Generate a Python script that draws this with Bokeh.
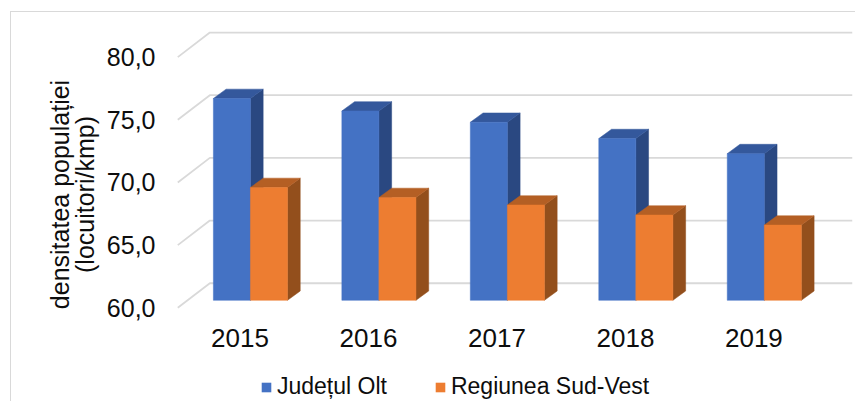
from bokeh.embed import file_html
from bokeh.resources import INLINE
from bokeh.layouts import column
from bokeh.plotting import figure
from bokeh.models import Range1d, Legend, LegendItem

years = ["2015", "2016", "2017", "2018", "2019"]
judet_olt = [76.1, 75.1, 74.2, 72.9, 71.7]
regiunea_sv = [69.0, 68.2, 67.6, 66.8, 66.0]
y_ticks = [60, 65, 70, 75, 80]
y_labels = ["60,0", "65,0", "70,0", "75,0", "80,0"]
series_names = ["Județul Olt", "Regiunea Sud-Vest"]

FONT = "Liberation Sans"
INK = "#0d0d0d"
GRID = "#d9d9d9"
BLUE = ("#4472C4", "#34589C", "#2A4881")
ORANGE = ("#ED7D31", "#B45F24", "#934F1C")

PX_X = 128.25   # pixels per category
PX_Y = 12.5     # pixels per unit of value
FRAME_H = 347
Y_BOTTOM = 55.16

p = figure(frame_width=675, frame_height=FRAME_H, output_backend="svg", toolbar_location=None,
           x_range=Range1d(-0.4945, 4.7675), y_range=Range1d(Y_BOTTOM, Y_BOTTOM + FRAME_H / PX_Y),
           min_border_left=165, min_border_right=4, min_border_top=8, min_border_bottom=0,
           outline_line_color=None, background_fill_color=None, border_fill_color="white",
           margin=(11, 0, 0, 10),
           styles={"border-left": "1.5px solid #d9d9d9", "border-top": "1.5px solid #d9d9d9",
                   "box-sizing": "border-box"})
p.grid.visible = False

# wall: diagonal floor/side segment and the horizontal line behind it
wall_dx = 32 / PX_X
wall_dy = 24.5 / PX_Y
x0, x1 = -0.4945 + 0.01, 4.7675
p.multi_line([[x0, x0 + wall_dx, x1] for _ in y_ticks],
             [[t, t + wall_dy, t + wall_dy] for t in y_ticks],
             line_color=GRID, line_width=1.8)

# bars
bar_w = 37 / PX_X
depth_x = 12.7 / PX_X
depth_y = 9.3 / PX_Y
base_off = 7.5 / PX_Y
first_left = (213.7 - 240.3) / PX_X


def outlines(values, shift):
    fx, fy, tx, ty, sx, sy = [], [], [], [], [], []
    for i, v in enumerate(values):
        l = i + first_left + shift
        r = l + bar_w
        b = 60 + base_off
        t = v + base_off
        fx.append([l, r, r, l]); fy.append([b, b, t, t])
        tx.append([l, r, r + depth_x, l + depth_x]); ty.append([t, t, t + depth_y, t + depth_y])
        sx.append([r, r + depth_x, r + depth_x, r]); sy.append([b, b + depth_y, t + depth_y, t])
    return fx, fy, tx, ty, sx, sy


def paint(values, shift, colors):
    front, top, side = colors
    fx, fy, tx, ty, sx, sy = outlines(values, shift)
    p.patches(sx, sy, fill_color=side, line_color=side, line_width=0.5)
    p.patches(tx, ty, fill_color=top, line_color=top, line_width=0.5)
    p.patches(fx, fy, fill_color=front, line_color=front, line_width=0.5)


paint(judet_olt, 0, BLUE)
paint(regiunea_sv, bar_w, ORANGE)

# axes
p.xaxis.ticker = list(range(len(years)))
p.xaxis.major_label_overrides = {i: y for i, y in enumerate(years)}
p.yaxis.ticker = y_ticks
p.yaxis.major_label_overrides = dict(zip(y_ticks, y_labels))
for ax in (p.xaxis[0], p.yaxis[0]):
    ax.axis_line_color = None
    ax.major_tick_line_color = None
    ax.minor_tick_line_color = None
    ax.major_label_text_font = FONT
    ax.major_label_text_color = INK
p.xaxis.major_label_text_font_size = "26px"
p.xaxis.major_label_standoff = -46
p.yaxis.major_label_text_font_size = "25px"
p.yaxis.major_label_standoff = 15
p.yaxis.axis_label = "densitatea populației\n(locuitori/kmp)"
p.yaxis.axis_label_text_font = FONT
p.yaxis.axis_label_text_font_style = "normal"
p.yaxis.axis_label_text_font_size = "25px"
p.yaxis.axis_label_text_color = INK
p.yaxis.axis_label_standoff = 5
p.yaxis.axis_label_text_line_height = 0.9

# legend strip under the chart
nan = float("nan")
q = figure(width=845, height=34, output_backend="svg", toolbar_location=None,
           x_range=Range1d(0, 1), y_range=Range1d(0, 1), x_axis_location=None, y_axis_location=None,
           min_border=0, outline_line_color=None, background_fill_color=None,
           border_fill_color="white", margin=(0, 0, 0, 10),
           styles={"border-left": "1.5px solid #d9d9d9", "box-sizing": "border-box"})
q.grid.visible = False
k1 = q.quad(left=[nan], right=[nan], top=[nan], bottom=[nan], fill_color=BLUE[0], line_color=None)
k2 = q.quad(left=[nan], right=[nan], top=[nan], bottom=[nan], fill_color=ORANGE[0], line_color=None)
legend = Legend(items=[LegendItem(label=series_names[0], renderers=[k1]),
                       LegendItem(label=series_names[1], renderers=[k2])],
                orientation="horizontal", location=(84, 1),
                glyph_width=12, glyph_height=12, label_standoff=5, spacing=47,
                padding=0, margin=0, border_line_color=None, background_fill_alpha=0,
                label_text_font=FONT, label_text_font_size="23px", label_text_color=INK)
q.add_layout(legend, "center")

open("out.html", "w").write(file_html(column(p, q, spacing=0), INLINE))
